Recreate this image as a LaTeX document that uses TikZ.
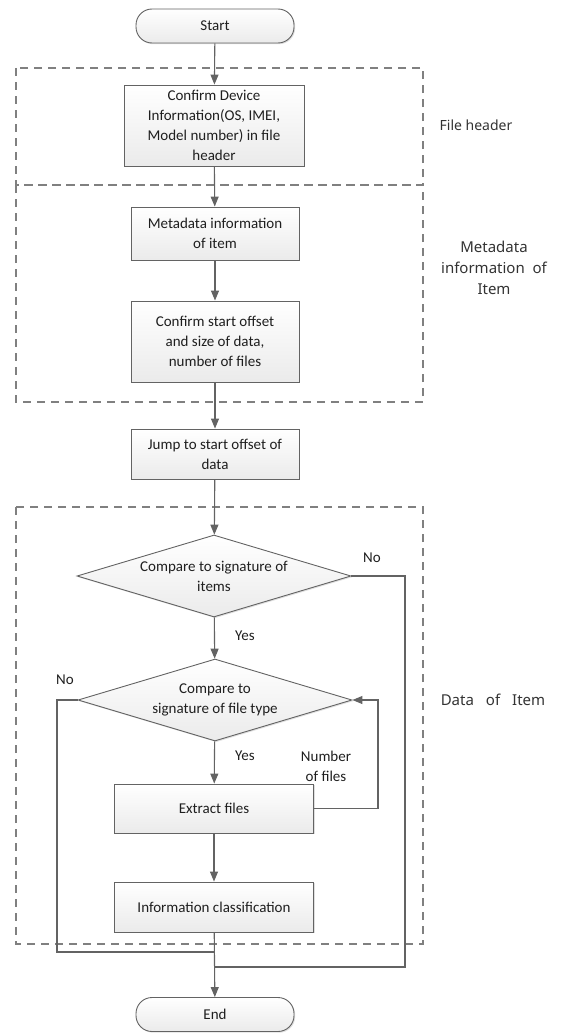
\documentclass[tikz,border=0pt]{standalone}
\usepackage{fontspec}
\setmainfont{Carlito}
\newfontfamily\sidefont{Noto Sans}
\usetikzlibrary{shapes.geometric,arrows.meta,shadows}
\definecolor{edge}{HTML}{636363}
\definecolor{dashc}{HTML}{808080}
\begin{document}
\begin{tikzpicture}[x=1pt,y=-1pt,
  every node/.style={font=\fontsize{15}{20}\selectfont, text=black!88},
  boxbase/.style={draw=edge, line width=0.9pt, top color=white, bottom color=gray!16,
     drop shadow={shadow xshift=1.2pt, shadow yshift=-1.2pt, opacity=0.25}},
  procbox/.style={boxbase, rectangle, minimum width=168pt, align=center, inner sep=0pt},
  termbox/.style={boxbase, rectangle, rounded corners=16pt, minimum width=158pt, minimum height=34pt, inner sep=0pt},
  decbox/.style={boxbase, diamond, aspect=3.34, minimum width=274pt, minimum height=82pt, inner sep=0pt, align=center},
  flow/.style={draw=edge, line width=1.1pt},
  arr/.style={flow, -{Triangle[width=8pt,length=10pt]}},
  group/.style={draw=dashc, line width=2pt, dash pattern=on 8pt off 6pt},
  side/.style={font=\sidefont\fontsize{15}{21}\selectfont, text=black!80, align=center},
  lab/.style={font=\fontsize{15}{20}\selectfont}
]
\useasboundingbox (0,0) rectangle (576,1033);
% groups
\draw[group] (16,68) rectangle (423,185);
\draw[group] (16,185) rectangle (423,402);
\draw[group] (16,507) rectangle (423,944);
% nodes
\node[termbox] (start) at (215,26) {Start};
\node[procbox, minimum width=180pt, minimum height=81pt] (dev) at (214,125.5) {Confirm Device\\Information(OS, IMEI,\\Model number) in file\\header};
\node[procbox, minimum height=53pt] (meta) at (215,233.5) {Metadata information\\of item};
\node[procbox, minimum height=81pt] (conf) at (215,341.5) {Confirm start offset\\and size of data,\\number of files};
\node[procbox, minimum height=50pt] (jump) at (215,454) {Jump to start offset of\\data};
\node[decbox] (d1) at (214,576) {Compare to signature of\\items};
\node[decbox] (d2) at (215,700) {Compare to\\signature of file type};
\node[procbox, minimum width=199pt, minimum height=49pt] (ext) at (214,808.5) {Extract files};
\node[procbox, minimum width=199pt, minimum height=50pt] (info) at (214,907) {Information classification};
\node[termbox] (end) at (215,1014.5) {End};
% side labels
\node[side, font=\sidefont\fontsize{14}{21}\selectfont] (s1) at (476,125) {File header};
\node[side] (s2) at (494,268) {Metadata\\information\ \ of\\Item};
\node[side] (s3) at (493,700) {Data\hspace{12pt}of\hspace{12pt}Item};
% connectors
\draw[arr] (start) -- (dev);
\draw[arr] (dev) -- (meta);
\draw[arr] (meta) -- (conf);
\draw[arr] (conf) -- (jump);
\draw[arr] (jump) -- (d1);
\draw[arr] (d1) -- (d2);
\draw[arr] (d2) -- (ext);
\draw[arr] (ext) -- (info);
\draw[arr] (info) -- (end);
\coordinate (j1) at (215,967);
\coordinate (j2) at (215,952);
\draw[flow] (d1.east) -- (405,576) |- (j1);
\draw[flow] (d2.west) -- (57,700) |- (j2);
\draw[arr] (ext.east) -- (378,808.5) |- (d2.east);
% labels
\node[lab] (no1) at (372,558) {No};
\node[lab] (yes1) at (245,636) {Yes};
\node[lab] (no2) at (65,680) {No};
\node[lab] (yes2) at (245,756) {Yes};
\node[lab, align=center] (nf) at (326,766) {Number\\of files};
\end{tikzpicture}
\end{document}
